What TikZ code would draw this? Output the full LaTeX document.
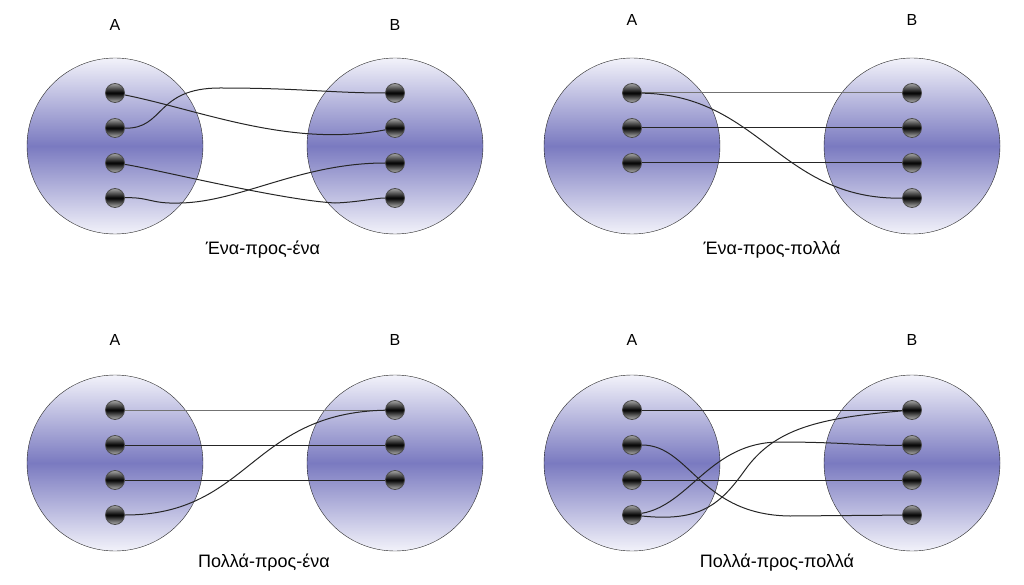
\documentclass[tikz,border=0pt]{standalone}
\usepackage{fontspec}
\setmainfont{Liberation Sans}
\definecolor{setblue}{RGB}{122,122,192}
\definecolor{setpale}{RGB}{242,242,250}

\begin{document}
\begin{tikzpicture}[x=1pt, y=-1pt, node distance={35pt},
    set/.style = {draw=black!85, circle, minimum size=176pt, inner sep=0pt, top color=setpale, bottom color=setpale, middle color=setblue},
    dot/.style = {draw=black!70, line width=0.8pt, circle, minimum size=19pt, inner sep=0pt, top color=gray!70, bottom color=gray!60, middle color=black},
    link/.style = {draw=black!85, line width=1pt},
    lbl/.style = {font=\fontsize{16}{18}\selectfont},
    title/.style = {font=\fontsize{18}{20}\selectfont}]

    \useasboundingbox (0,0) rectangle (1024,585);

    % one-to-one
    \node[set] (p1A) at (115,146) {};
    \node[set] (p1B) at (395,146) {};
    \node[lbl] (p1lA) at (115,25) {A};
    \node[lbl] (p1lB) at (395,25) {B};
    \node[dot] (p1a1) at (115,93) {};
    \node[dot] (p1a2) [below of=p1a1] {};
    \node[dot] (p1a3) [below of=p1a2] {};
    \node[dot] (p1a4) [below of=p1a3] {};
    \node[dot] (p1b1) at (395,93) {};
    \node[dot] (p1b2) [below of=p1b1] {};
    \node[dot] (p1b3) [below of=p1b2] {};
    \node[dot] (p1b4) [below of=p1b3] {};
    \node[title] (p1title) at (263,250) {Ένα-προς-ένα};

    \draw[link] (p1a1) .. controls (200,110) and (290,148) .. (p1b2);
    \draw[link] (p1a2) .. controls (165,129) and (155,88) .. (220,88) .. controls (300,88) and (330,93) .. (p1b1);
    \draw[link] (p1a3) .. controls (150,168) and (280,200) .. (335,203) .. controls (360,202) and (375,198) .. (p1b4);
    \draw[link] (p1a4) .. controls (150,197) and (150,204) .. (180,203) .. controls (240,202) and (300,163) .. (p1b3);

    % one-to-many
    \node[set] (p2A) at (632,146) {};
    \node[set] (p2B) at (912,146) {};
    \node[lbl] (p2lA) at (632,20) {A};
    \node[lbl] (p2lB) at (912,20) {B};
    \node[dot] (p2a1) at (632,93) {};
    \node[dot] (p2a2) [below of=p2a1] {};
    \node[dot] (p2a3) [below of=p2a2] {};
    \node[dot] (p2b1) at (912,93) {};
    \node[dot] (p2b2) [below of=p2b1] {};
    \node[dot] (p2b3) [below of=p2b2] {};
    \node[dot] (p2b4) [below of=p2b3] {};
    \node[title] (p2title) at (772,250) {Ένα-προς-πολλά};

    \draw[link, draw=black!55] (p2a1) -- (p2b1);
    \draw[link] (p2a2) -- (p2b2);
    \draw[link] (p2a3) -- (p2b3);
    \draw[link] (p2a1) .. controls (760,95) and (780,200) .. (p2b4);

    % many-to-one
    \node[set] (p3A) at (115,463) {};
    \node[set] (p3B) at (395,463) {};
    \node[lbl] (p3lA) at (115,340) {A};
    \node[lbl] (p3lB) at (395,340) {B};
    \node[dot] (p3a1) at (115,410) {};
    \node[dot] (p3a2) [below of=p3a1] {};
    \node[dot] (p3a3) [below of=p3a2] {};
    \node[dot] (p3a4) [below of=p3a3] {};
    \node[dot] (p3b1) at (395,410) {};
    \node[dot] (p3b2) [below of=p3b1] {};
    \node[dot] (p3b3) [below of=p3b2] {};
    \node[title] (p3title) at (264,563) {Πολλά-προς-ένα};

    \draw[link, draw=black!55] (p3a1) -- (p3b1);
    \draw[link] (p3a2) -- (p3b2);
    \draw[link] (p3a3) -- (p3b3);
    \draw[link] (p3a4) .. controls (250,515) and (250,413) .. (p3b1);

    % many-to-many
    \node[set] (p4A) at (632,463) {};
    \node[set] (p4B) at (912,463) {};
    \node[lbl] (p4lA) at (632,340) {A};
    \node[lbl] (p4lB) at (912,340) {B};
    \node[dot] (p4a1) at (632,410) {};
    \node[dot] (p4a2) [below of=p4a1] {};
    \node[dot] (p4a3) [below of=p4a2] {};
    \node[dot] (p4a4) [below of=p4a3] {};
    \node[dot] (p4b1) at (912,410) {};
    \node[dot] (p4b2) [below of=p4b1] {};
    \node[dot] (p4b3) [below of=p4b2] {};
    \node[dot] (p4b4) [below of=p4b3] {};
    \node[title] (p4title) at (777,563) {Πολλά-προς-πολλά};

    \draw[link] (p4a1) -- (p4b1);
    \draw[link] (p4a3) -- (p4b3);
    \draw[link] (p4a2) .. controls (690,445) and (700,515) .. (790,516) -- (p4b4);
    \draw[link] (p4a4) .. controls (690,505) and (710,442) .. (780,442) .. controls (840,442) and (870,446) .. (p4b2);
    \draw[link] (p4a4) .. controls (700,522) and (720,505) .. (745,470) .. controls (775,428) and (820,418) .. (p4b1);

\end{tikzpicture}
\end{document}
